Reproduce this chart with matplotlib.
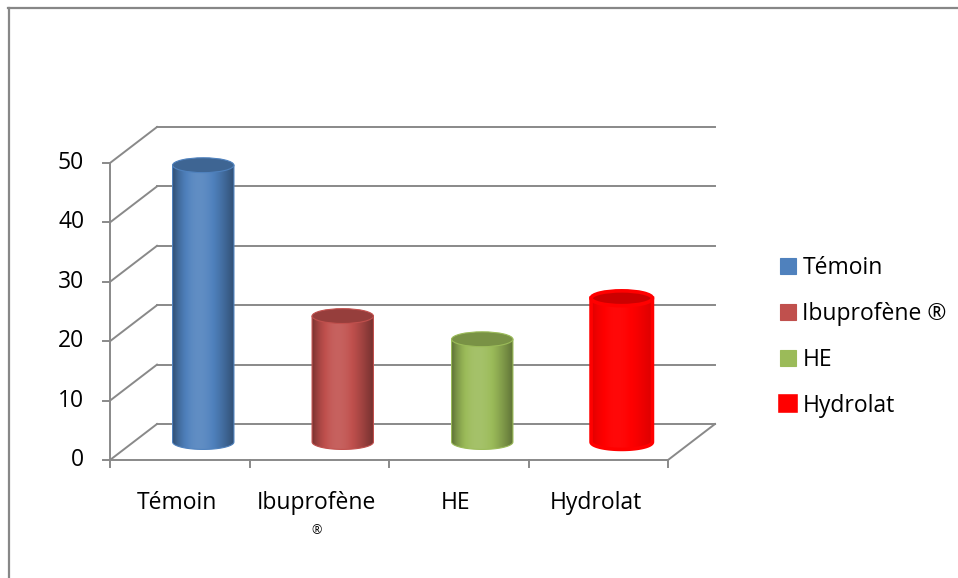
import numpy as np
import matplotlib.pyplot as plt
from matplotlib.patches import Ellipse, Patch, PathPatch
from matplotlib.path import Path
from matplotlib.lines import Line2D
import matplotlib.colors as mcolors

plt.rcParams['font.family'] = ['Open Sans', 'DejaVu Sans']

categories = ['Témoin', 'Ibuprofène ®', 'HE', 'Hydrolat']
xlabels = ['Témoin', 'Ibuprofène', 'HE', 'Hydrolat']
values = [46.6, 21.2, 17.3, 24.2]
colors = ['#4F81BD', '#C0504D', '#9BBB59', '#FF0000']
yticks = [0, 10, 20, 30, 40, 50]

# echelle en pixels du graphique (look 3D Excel)
PX_CAT = 139.5
PX_VAL = 5.94
DX = 47 / PX_CAT      # profondeur en x (unites categorie)
DY = 36 / PX_VAL      # profondeur en y (unites valeur)
W = 0.44              # largeur des cylindres
EH = 2.5              # hauteur des ellipses

fig = plt.figure(figsize=(9.58, 5.78), dpi=100)
ax = fig.add_axes([0, 0, 1, 1])
xlim = (-110 / PX_CAT, (958 - 110) / PX_CAT)
ylim = (-118 / PX_VAL, (578 - 118) / PX_VAL)
ax.set_xlim(xlim)
ax.set_ylim(ylim)
ax.axis('off')

grid = '#898989'
lw = 1.4
n = len(categories)
ymax = yticks[-1]

# murs et grille
for v in yticks:
    ax.plot([0, DX], [v, v + DY], color=grid, lw=lw, zorder=1)
    ax.plot([DX, n + DX], [v + DY, v + DY], color=grid, lw=lw, zorder=1)
    ax.plot([-0.05, 0], [v, v], color=grid, lw=lw, zorder=1)
    ax.text(-0.185, v, str(v), ha='right', va='center', fontsize=16.5)
ax.plot([0, 0], [0, ymax], color=grid, lw=lw, zorder=1)
ax.plot([0, n], [0, 0], color=grid, lw=lw, zorder=1)
ax.plot([n, n + DX], [0, DY], color=grid, lw=lw, zorder=1)
for i in range(n + 1):
    ax.plot([i, i], [0, -1.2], color=grid, lw=lw, zorder=1)

# etiquettes x
for i, lab in enumerate(xlabels):
    ax.text(i + 0.48, -7.2, lab, ha='center', va='center', fontsize=16.5)
ax.text(1.48, -11.9, '®', ha='center', va='center', fontsize=9)

# cylindres
s = np.linspace(0, 1, 200)
contrast = [1.0, 1.0, 1.0, 0.35]
edge_lw = [0.8, 0.8, 0.8, 2.6]
for i, (v, c) in enumerate(zip(values, colors)):
    rgb = np.array(mcolors.to_rgb(c))
    xc = i + 0.5 + DX / 2
    y0 = DY / 2
    y1 = v + DY / 2
    x0, x1 = xc - W / 2, xc + W / 2

    th = np.linspace(0, -np.pi, 40)
    pts = [(x0, y1), (x1, y1)]
    pts += list(zip(xc + W / 2 * np.cos(th), y0 + EH / 2 * np.sin(th)))
    pts.append((x0, y1))
    path = Path(pts, closed=True)
    body = PathPatch(path, facecolor='none', edgecolor=c, lw=edge_lw[i], zorder=4)
    ax.add_patch(body)

    shade = 1 + contrast[i] * (-0.4 + 0.5 * np.sin(np.pi * s ** 0.8))
    cols = []
    for f in shade:
        if f <= 1:
            cols.append(rgb * f)
        else:
            cols.append(rgb + (1 - rgb) * (f - 1))
    img = np.clip(np.array(cols), 0, 1)[None, :, :]
    im = ax.imshow(img, extent=(x0, x1, y0 - EH, y1), aspect='auto',
                   interpolation='bilinear', zorder=3)
    im.set_clip_path(body)

    top = rgb * (0.78 if contrast[i] == 1.0 else 0.8)
    ax.add_patch(Ellipse((xc, y1), W, EH, facecolor=top, edgecolor=c,
                         lw=edge_lw[i], zorder=5))

ax.set_xlim(xlim)
ax.set_ylim(ylim)

# legende
handles = [Patch(facecolor=c, edgecolor=c, lw=l) for c, l in zip(colors, edge_lw)]
ax.legend(handles, categories, loc='center left',
          bbox_to_anchor=(780 / 958, 1 - 337 / 578), bbox_transform=fig.transFigure,
          frameon=False, fontsize=16.5, handlelength=0.68, handleheight=0.68,
          handletextpad=0.3, labelspacing=0.95, borderaxespad=0, borderpad=0)

# cadre
fig.add_artist(Line2D([8 / 958, 1], [1 - 8 / 578] * 2, transform=fig.transFigure,
                      color='#878787', lw=1.6))
fig.add_artist(Line2D([9 / 958] * 2, [0, 1 - 8 / 578], transform=fig.transFigure,
                      color='#878787', lw=1.6))

fig.savefig('out.png', dpi=100)
